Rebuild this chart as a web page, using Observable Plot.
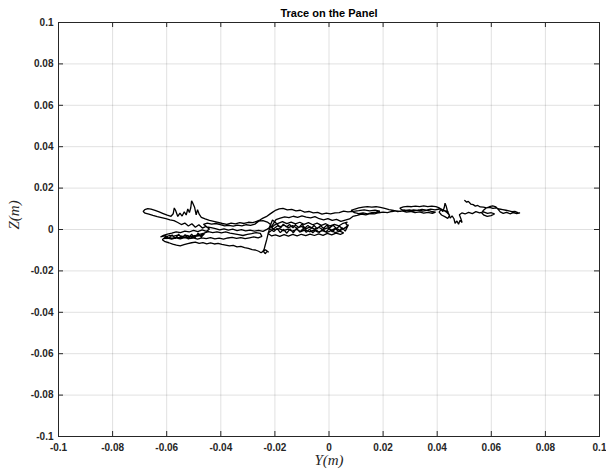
<!DOCTYPE html>
<html><head><meta charset="utf-8">
<script src="https://cdn.jsdelivr.net/npm/d3@7"></script>
<script src="https://cdn.jsdelivr.net/npm/@observablehq/plot@0.6"></script>
<style>body{margin:0;background:#fff}</style>
</head><body><div id="chart"></div>
<script>
const title = "Trace on the Panel";
const xLabel = "Y(m)";
const yLabel = "Z(m)";
const xTicks = [-0.1, -0.08, -0.06, -0.04, -0.02, 0, 0.02, 0.04, 0.06, 0.08, 0.1];
const xTickLabels = ["-0.1", "-0.08", "-0.06", "-0.04", "-0.02", "0", "0.02", "0.04", "0.06", "0.08", "0.1"];
const yTicks = [-0.1, -0.08, -0.06, -0.04, -0.02, 0, 0.02, 0.04, 0.06, 0.08, 0.1];
const yTickLabels = ["-0.1", "-0.08", "-0.06", "-0.04", "-0.02", "0", "0.02", "0.04", "0.06", "0.08", "0.1"];

// Trace points in millimetres: [Y, Z]
const traceMM = [
[50.2,14.0],[50.9,13.2],[51.5,13.6],[52.4,12.3],[53.3,12.0],[54.1,11.3],[55.0,11.6],[55.9,10.9],[57.1,10.8],[58.2,10.4],[59.4,10.7],[60.6,10.2],[61.8,10.4],[63.0,9.9],[64.2,9.6],[65.4,9.3],[66.5,9.0],[67.6,8.6],[68.7,8.8],[69.8,8.2],[70.6,8.0],
[69.4,7.7],[68.1,8.2],[66.9,7.6],[65.6,8.3],[64.4,7.8],[63.3,8.5],[62.6,9.6],[61.7,10.9],[60.5,11.4],[59.3,11.0],[58.0,10.3],[57.0,9.2],[56.5,8.0],[57.3,6.9],[58.5,6.3],[59.9,6.7],[61.2,7.5],[60.0,8.1],[58.6,7.8],[57.1,8.5],[55.7,8.0],[54.3,8.6],[53.0,7.7],[51.6,8.3],[50.3,7.5],[49.1,8.0],[48.2,7.1],[48.7,5.4],[49.2,3.4],[48.4,4.4],[47.9,2.5],[47.3,4.1],[46.6,3.0],[46.2,5.2],[45.5,6.6],[44.8,5.5],[44.3,7.4],[43.7,9.3],[43.3,11.4],[42.9,12.7],[42.6,10.6],[42.1,8.7],[41.4,9.6],[40.7,8.4],[41.6,7.0],[42.8,6.2],[43.9,5.4],[44.6,6.9],[43.6,8.2],[42.2,9.4],[40.8,10.4],[39.5,11.0],
[38.0,11.3],[36.5,11.0],[35.0,11.4],[33.5,11.1],[32.0,11.3],[30.5,11.0],[29.0,11.2],[27.5,10.9],[26.2,10.3],[26.8,9.6],[28.2,9.2],[29.8,9.5],[31.4,9.0],[33.0,9.4],[34.6,8.9],[36.2,9.3],[37.8,8.7],[39.4,8.4],[38.2,7.8],[36.6,8.3],[35.0,7.9],[33.4,8.5],[31.8,8.1],[30.2,8.7],[28.6,8.4],[27.0,9.0],[25.4,8.6],[23.8,9.2],[22.2,9.6],[20.6,10.2],[19.0,10.7],[17.4,11.0],[15.8,10.8],[14.2,11.1],[12.6,10.8],[11.0,10.4],[9.6,9.9],[8.2,9.2],[9.4,8.1],[11.0,7.7],[12.6,8.0],[14.2,7.6],[15.8,8.1],[17.4,8.4],[18.8,8.9],[17.0,9.4],[15.0,9.0],[13.0,9.5],[11.0,9.1],[9.0,8.8],
[7.0,8.5],[5.4,8.9],[3.8,8.2],[2.2,8.0],[0.6,7.5],[-1.0,7.9],[-2.6,7.4],[-4.2,8.3],[-5.8,8.0],[-7.4,8.7],[-9.0,8.4],[-10.6,9.3],[-12.2,9.0],[-13.8,9.7],[-15.4,9.5],[-17.0,10.2],[-18.4,10.0],[-19.6,9.4],[-20.8,8.4],[-22.0,7.3],[-23.2,6.2],[-24.4,5.5],[-25.6,4.6],[-26.8,3.9],[-28.2,3.3],[-29.8,3.5],[-31.4,2.9],[-33.0,3.3],[-34.6,2.7],[-36.2,3.1],[-37.8,2.5],[-39.4,2.9],[-41.0,3.4],[-42.6,3.9],[-44.2,4.4],[-45.8,5.1],[-47.2,5.9],
[-48.0,7.4],[-48.6,9.6],[-49.1,7.1],[-49.7,10.8],[-50.3,12.6],[-50.8,13.8],[-51.1,10.5],[-51.6,8.2],[-52.2,9.9],[-52.8,7.0],[-53.5,8.6],[-54.3,6.5],[-55.1,7.9],[-55.9,6.3],[-56.7,9.2],[-57.2,10.4],[-57.6,7.6],[-58.4,6.4],
[-59.8,6.9],[-61.3,7.7],[-62.8,8.5],[-64.3,9.2],[-65.8,9.8],[-67.0,10.1],[-68.1,9.6],[-68.7,8.7],[-68.0,7.9],[-66.6,7.4],[-65.1,6.8],[-63.5,6.2],[-61.9,5.7],[-60.3,5.2],[-58.8,4.7],[-57.3,4.3],[-55.9,3.4],
[-54.6,2.4],[-53.3,3.1],[-52.0,1.7],[-50.7,2.8],[-49.4,1.1],[-48.1,2.3],[-46.8,0.7],[-45.5,1.5],[-44.2,0.2],[-45.3,-0.9],[-46.9,-0.2],[-48.5,-1.0],[-50.1,-0.4],[-51.7,-1.2],[-53.3,-0.8],[-54.9,-1.5],[-56.5,-1.1],[-58.1,-1.8],[-59.7,-2.2],[-61.2,-2.8],[-62.3,-3.6],
[-60.4,-3.0],[-59.2,-4.2],[-58.0,-2.6],[-56.8,-4.4],[-55.6,-2.3],[-54.4,-4.3],[-53.2,-2.5],[-52.0,-4.6],[-50.8,-2.2],[-49.6,-4.2],[-48.4,-1.8],[-47.2,-3.6],[-46.0,-2.0],[-47.5,-3.0],[-50.0,-3.4],[-53.0,-3.7],[-56.0,-3.9],[-59.0,-4.2],
[-61.4,-4.4],[-59.8,-4.1],[-58.2,-4.6],[-56.6,-4.0],[-55.0,-4.5],[-53.4,-3.9],[-51.8,-4.4],[-50.2,-4.1],[-48.6,-4.6],[-47.0,-4.0],[-45.4,-4.4],[-43.8,-3.9],[-42.2,-4.5],[-40.6,-4.2],[-39.0,-4.6],[-37.4,-4.1],[-35.8,-3.8],[-34.2,-4.3],[-32.6,-3.9],[-31.0,-4.4],[-29.4,-4.0],[-27.8,-3.6],[-26.2,-4.0],[-24.8,-3.3],
[-25.4,-1.9],[-27.0,-1.5],[-28.6,-2.0],[-30.2,-2.4],[-31.8,-2.9],[-33.4,-2.5],[-35.0,-2.1],[-36.6,-1.7],[-38.2,-1.2],[-39.8,-1.6],[-41.4,-1.1],[-43.0,-1.5],[-44.6,-1.0],[-46.2,-1.7],[-47.8,-2.3],[-49.4,-2.9],[-51.0,-3.4],[-52.6,-2.8],[-54.2,-3.3],[-55.8,-2.7],[-57.4,-3.2],[-59.0,-2.9],[-60.6,-3.7],[-61.6,-4.9],[-60.6,-5.9],[-59.2,-6.4],[-57.8,-7.1],[-56.4,-7.6],[-55.0,-7.9],[-53.6,-7.3],[-52.2,-6.8],[-50.8,-6.4],[-49.4,-6.1],[-48.0,-6.7],[-46.6,-6.3],[-45.2,-6.9],[-43.8,-6.5],[-42.4,-7.0],[-41.0,-6.7],[-39.6,-7.2],[-38.2,-7.5],[-36.8,-7.9],[-35.4,-7.7],[-34.0,-8.4],[-32.6,-8.2],[-31.2,-8.8],[-29.8,-9.1],[-28.4,-9.7],[-27.2,-9.9],[-26.0,-10.5],[-25.1,-11.2],[-24.3,-10.4],[-23.6,-11.7],[-22.9,-10.6],[-22.3,-11.0],[-23.5,-9.8],[-24.6,-10.9],[-24.0,-9.6],
[-23.6,-7.6],[-23.0,-4.8],[-22.5,-2.0],[-21.9,0.8],[-21.4,2.9],[-20.9,4.6],[-19.8,3.4],
[-18.2,1.3],[-16.6,2.1],[-15.0,0.9],[-13.4,1.9],[-11.8,0.6],[-10.2,1.5],[-8.6,0.3],[-7.0,1.3],[-5.4,0.2],[-3.8,1.1],[-2.2,-0.1],[-0.6,0.8],[1.0,-0.3],[2.6,0.7],[4.2,-0.5],[5.8,0.6],[7.0,1.7],[6.2,2.9],[6.8,3.6],[5.2,3.0],[3.6,1.7],[2.0,2.5],[0.4,1.7],[-1.2,2.8],[-2.8,2.0],[-4.4,3.1],[-6.0,2.3],[-7.6,3.3],[-9.2,2.5],[-10.8,3.5],[-12.4,2.7],[-14.0,3.6],[-15.6,2.8],[-17.2,3.8],[-18.8,3.0],[-20.2,2.1],[-21.2,0.8],[-20.0,-0.2],[-18.4,0.4],[-16.8,-0.5],[-15.2,0.2],[-13.6,-0.8],[-12.0,0.0],[-10.4,-1.0],[-8.8,-0.2],[-7.2,-1.1],[-5.6,-0.3],[-4.0,-1.3],[-2.4,-0.5],[-0.8,-1.4],[0.8,-0.6],[2.4,-1.5],[4.0,-0.8],[5.4,-1.6],[4.2,-2.4],[2.6,-1.8],[1.0,-2.6],[-0.6,-1.9],[-2.2,-2.8],[-3.8,-2.1],[-5.4,-2.9],[-7.0,-2.2],[-8.6,-3.0],[-10.2,-2.3],[-11.8,-3.1],[-13.4,-2.4],[-15.0,-3.2],[-16.6,-2.5],[-18.2,-3.3],[-19.8,-2.6],[-21.2,-3.1],[-22.6,-1.8],
[-19.0,1.8],[-17.8,0.9],[-16.9,2.6],[-15.7,1.2],[-14.6,2.4],[-13.3,0.8],[-12.4,2.2],[-11.1,1.0],[-10.0,2.6],[-8.9,0.7],[-7.8,2.0],[-6.6,0.5],[-5.5,1.9],[-4.4,0.4],[-3.2,1.8],[-2.0,0.6],[-0.9,2.0],[0.3,0.8],[1.5,2.1],[2.7,0.5],[3.9,1.6],[5.1,0.2],[6.3,1.2],[7.2,2.3],[6.0,-0.8],[4.8,0.9],[3.6,-1.0],[2.4,0.4],[1.2,-1.1],[0.0,0.3],[-1.2,-1.2],[-2.4,0.2],[-3.6,-1.5],[-4.8,-0.1],[-6.0,-1.6],[-7.2,0.1],[-8.4,-1.4],[-9.6,0.4],[-10.8,-1.3],[-12.0,0.6],[-13.2,-1.6],[-14.4,0.3],[-15.6,-1.8],[-16.8,0.1],[-18.0,-1.5],[-19.2,0.5],[-20.4,-1.0],
[-22.2,0.6],[-21.6,2.4],[-22.8,3.6],[-24.4,4.3],[-26.0,4.0],[-27.4,2.6],[-29.0,2.0],[-30.6,2.3],[-32.2,1.7],[-33.8,2.1],[-35.4,1.6],[-37.0,2.0],[-38.6,1.7],[-40.2,2.4],[-41.8,2.9],[-43.4,2.6],[-45.0,3.1],[-46.4,2.5],[-45.2,1.3],[-43.6,0.9],[-42.0,0.4],[-40.4,-0.2],[-38.8,0.3],[-37.2,-0.3],[-35.6,0.2],[-34.0,-0.5],[-32.4,-0.1],[-30.8,-0.7],[-29.2,-0.3],[-27.6,-0.8],[-26.0,-0.4],[-24.4,-0.9],[-22.8,0.2],[-21.2,1.5],
[-19.6,4.8],[-18.0,5.5],[-16.4,6.1],[-14.8,5.7],[-13.2,6.4],[-11.6,5.9],[-10.0,6.6],[-8.4,6.0],[-6.8,5.6],[-5.2,6.2],[-3.6,5.2],[-2.0,4.7],[-0.4,5.3],[1.2,4.4],[2.8,4.9],[4.4,3.9],[6.0,4.5],[7.6,5.1],[8.8,6.3],[10.4,6.8],[12.0,7.4],[13.6,7.1],[15.2,7.7],[16.8,7.5],[18.4,8.1],[20.0,8.4],[21.6,8.2],[23.2,8.7],[24.8,9.0],[26.4,8.8],[28.0,9.3],[29.6,9.0],[31.2,9.5],[32.8,9.2],[34.4,9.7],[36.0,9.4],[37.6,9.8],[39.2,9.5],[40.8,9.9],[42.4,9.2],[44.0,8.6]
];

const trace = traceMM.map(([y, z], i) => ({i, y: y / 1000, z: z / 1000}));

const W = 606, H = 470;
const mL = 58, mR = 7, mT = 22, mB = 34;
const innerW = W - mL - mR, innerH = H - mT - mB;
const fmt = (ticks, labels) => d => labels[ticks.findIndex(t => Math.abs(t - d) < 1e-9)];
const axisColor = "#262626";

const chart = Plot.plot({
  width: W, height: H,
  marginLeft: mL, marginRight: mR, marginTop: mT, marginBottom: mB,
  style: {fontFamily: "'Liberation Sans', Arial, sans-serif", background: "#fff", color: axisColor},
  x: {domain: [-0.1, 0.1]},
  y: {domain: [-0.1, 0.1]},
  marks: [
    Plot.gridX(xTicks, {stroke: "#000", strokeOpacity: 0.12}),
    Plot.gridY(yTicks, {stroke: "#000", strokeOpacity: 0.12}),
    Plot.line(trace, {x: "y", y: "z", stroke: "#000", strokeWidth: 1.3, strokeLinejoin: "miter"}),
    Plot.frame({stroke: axisColor, strokeWidth: 1}),
    Plot.tickX(xTicks, {x: d => d, stroke: axisColor, insetTop: innerH - 5}),
    Plot.tickX(xTicks, {x: d => d, stroke: axisColor, insetBottom: innerH - 5}),
    Plot.tickY(yTicks, {y: d => d, stroke: axisColor, insetRight: innerW - 5}),
    Plot.tickY(yTicks, {y: d => d, stroke: axisColor, insetLeft: innerW - 5}),
    Plot.axisX(xTicks, {tickSize: 0, tickPadding: 7, tickFormat: fmt(xTicks, xTickLabels), fontWeight: "bold", fontSize: 10, label: null}),
    Plot.axisY(yTicks, {tickSize: 0, tickPadding: 5, tickFormat: fmt(yTicks, yTickLabels), fontWeight: "bold", fontSize: 10, label: null}),
    Plot.text([title], {text: d => d, frameAnchor: "top", lineAnchor: "middle", dy: -9, fontWeight: "bold", fontSize: 11, fill: "#000"}),
    Plot.text([xLabel], {text: d => d, frameAnchor: "bottom", lineAnchor: "middle", dy: 24, fontFamily: "'Liberation Serif', serif", fontStyle: "italic", fontSize: 15, fill: axisColor}),
    Plot.text([yLabel], {text: d => d, frameAnchor: "left", lineAnchor: "middle", dx: -44, rotate: -90, fontFamily: "'Liberation Serif', serif", fontStyle: "italic", fontSize: 15, fill: axisColor})
  ]
});
document.getElementById("chart").appendChild(chart);
</script>
</body></html>
